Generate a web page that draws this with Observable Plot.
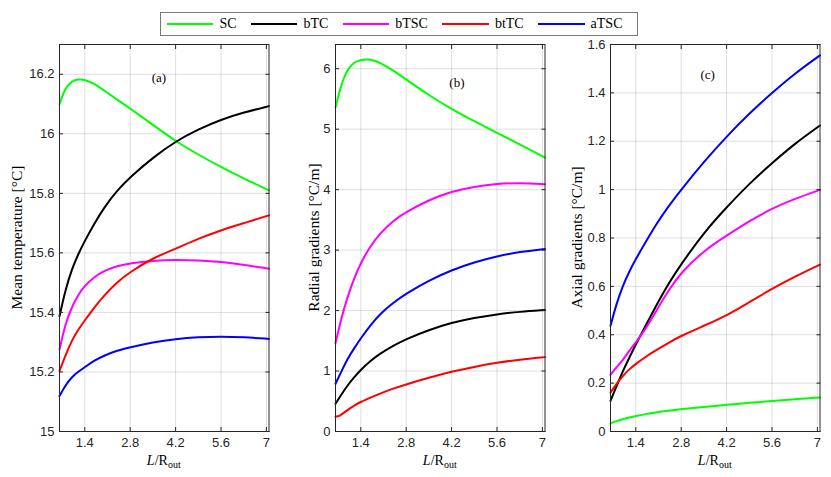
<!DOCTYPE html>
<html><head><meta charset="utf-8">
<script src="https://cdn.jsdelivr.net/npm/d3@7"></script>
<script src="https://cdn.jsdelivr.net/npm/@observablehq/plot@0.6"></script>
<style>
body{margin:0;background:#fff;}
#root{position:relative;width:831px;height:477px;overflow:hidden;}
.panel{position:absolute;top:40px;}
#legend{position:absolute;left:160px;top:12px;width:478px;height:24px;border:1px solid #777;background:#fff;box-sizing:border-box;display:flex;align-items:center;padding-left:6px;font-family:"Liberation Serif",serif;font-size:14px;color:#000;}
#legend .sw{width:49px;height:2px;margin-right:6px;}
#legend .lb{margin-right:14.5px;}
.serif{font-family:"Liberation Serif",serif !important;}
</style></head>
<body><div id="root"><div id="legend"></div></div>
<script>
// ---- data ----
const seriesNames = ["SC", "bTC", "bTSC", "btTC", "aTSC"];
const seriesColors = ["#00ff00", "#000000", "#ff00ff", "#ff0000", "#0000ff"];
const xs = [0.62, 0.8, 1.0, 1.2, 1.4, 1.7, 2.0, 2.4, 2.8, 3.5, 4.2, 4.9, 5.6, 6.3, 7.08];
const xsRedB = [0.62, 0.74, 1.0, 1.2, 1.4, 1.7, 2.0, 2.4, 2.8, 3.5, 4.2, 4.9, 5.6, 6.3, 7.08];
const xTicks = [1.4, 2.8, 4.2, 5.6, 7];

// (a) Mean temperature [°C]
const tempSC   = [16.10, 16.155, 16.177, 16.184, 16.182, 16.168, 16.145, 16.115, 16.085, 16.03, 15.975, 15.93, 15.888, 15.85, 15.81];
const tempBTC  = [15.387, 15.475, 15.545, 15.597, 15.64, 15.70, 15.753, 15.81, 15.855, 15.92, 15.975, 16.015, 16.048, 16.072, 16.093];
const tempBTSC = [15.275, 15.362, 15.418, 15.46, 15.49, 15.52, 15.54, 15.556, 15.565, 15.574, 15.577, 15.575, 15.57, 15.56, 15.547];
const tempBtTC = [15.203, 15.255, 15.306, 15.343, 15.373, 15.418, 15.457, 15.502, 15.536, 15.583, 15.614, 15.648, 15.676, 15.70, 15.726];
const tempATSC = [15.119, 15.155, 15.183, 15.201, 15.216, 15.239, 15.255, 15.272, 15.283, 15.30, 15.311, 15.317, 15.319, 15.317, 15.311];
const tempTicks = [15, 15.2, 15.4, 15.6, 15.8, 16, 16.2];

// (b) Radial gradients [°C/m]
const radSC   = [5.36, 5.75, 6.0, 6.11, 6.15, 6.16, 6.10, 5.97, 5.82, 5.56, 5.33, 5.13, 4.94, 4.75, 4.53];
const radBTC  = [0.46, 0.61, 0.77, 0.90, 1.02, 1.17, 1.29, 1.42, 1.53, 1.68, 1.80, 1.88, 1.94, 1.98, 2.01];
const radBTSC = [1.46, 1.88, 2.24, 2.54, 2.79, 3.07, 3.28, 3.49, 3.63, 3.83, 3.97, 4.05, 4.10, 4.11, 4.09];
const radBtTC = [0.25, 0.25, 0.36, 0.43, 0.49, 0.56, 0.63, 0.71, 0.78, 0.89, 0.99, 1.07, 1.14, 1.19, 1.23];
const radATSC = [0.79, 0.99, 1.21, 1.38, 1.54, 1.76, 1.95, 2.13, 2.28, 2.50, 2.67, 2.80, 2.90, 2.97, 3.02];
const radTicks = [0, 1, 2, 3, 4, 5, 6];

// (c) Axial gradients [°C/m]
const axSC   = [0.034, 0.043, 0.051, 0.058, 0.064, 0.072, 0.079, 0.086, 0.092, 0.102, 0.11, 0.119, 0.126, 0.133, 0.141];
const axBTC  = [0.127, 0.185, 0.25, 0.305, 0.36, 0.437, 0.513, 0.61, 0.692, 0.823, 0.927, 1.025, 1.11, 1.19, 1.265];
const axBTSC = [0.234, 0.265, 0.295, 0.334, 0.368, 0.423, 0.492, 0.582, 0.658, 0.748, 0.81, 0.87, 0.922, 0.962, 0.999];
const axBtTC = [0.161, 0.196, 0.23, 0.258, 0.279, 0.309, 0.334, 0.366, 0.396, 0.437, 0.479, 0.535, 0.59, 0.64, 0.69];
const axATSC = [0.437, 0.527, 0.603, 0.662, 0.713, 0.782, 0.851, 0.93, 1.0, 1.115, 1.22, 1.315, 1.40, 1.48, 1.555];
const axTicks = [0, 0.2, 0.4, 0.6, 0.8, 1, 1.2, 1.4, 1.6];

const panelTags = ["(a)", "(b)", "(c)"];
const yLabels = ["Mean temperature [°C]", "Radial gradients [°C/m]", "Axial gradients [°C/m]"];

// ---- layout ----
const xDomain = [0.62, 7.08];
const root = document.getElementById("root");
const legend = document.getElementById("legend");
seriesNames.forEach((n, i) => {
  const sw = document.createElement("div"); sw.className = "sw"; sw.style.background = seriesColors[i];
  const lb = document.createElement("span"); lb.className = "lb"; lb.textContent = n;
  legend.appendChild(sw); legend.appendChild(lb);
});

function rows(xArrs, yArrs) {
  return yArrs.flatMap((ys, i) => ys.map((y, j) => ({x: xArrs[i][j], y, s: seriesNames[i]})));
}

const panels = [
  {left: 0, yDomain: [15, 16.3], ticks: tempTicks, data: rows([xs,xs,xs,xs,xs],[tempSC,tempBTC,tempBTSC,tempBtTC,tempATSC]), tag: [3.7, 16.186], ylx: 17},
  {left: 275.7, yDomain: [0, 6.4], ticks: radTicks, data: rows([xs,xs,xs,xsRedB,xs],[radSC,radBTC,radBTSC,radBtTC,radATSC]), tag: [4.38, 5.77], ylx: 37.6},
  {left: 550.7, yDomain: [0, 1.6], ticks: axTicks, data: rows([xs,xs,xs,xs,xs],[axSC,axBTC,axBTSC,axBtTC,axATSC]), tag: [3.63, 1.473], ylx: 25.3}
];

const W = 271.5, H = 437, ML = 59, MR = 3, MT = 4, MB = 46;
const axisColor = "#262626";

panels.forEach((p, k) => {
  const svg = Plot.plot({
    width: W, height: H, marginLeft: ML, marginRight: MR, marginTop: MT, marginBottom: MB,
    x: {domain: xDomain},
    y: {domain: p.yDomain},
    color: {domain: seriesNames, range: seriesColors},
    style: {fontFamily: "'Liberation Sans', Arial, sans-serif", fontSize: "13px", background: "transparent", overflow: "visible"},
    marks: [
      Plot.gridX(xTicks, {stroke: "#000", strokeOpacity: 0.13}),
      Plot.gridY(p.ticks, {stroke: "#000", strokeOpacity: 0.13}),
      Plot.line(p.data, {x: "x", y: "y", z: "s", stroke: "s", strokeWidth: 2, curve: "basis"}),
      Plot.axisX(xTicks, {anchor: "bottom", tickSize: 0, tickPadding: 6, tickFormat: d => String(d), label: null, fill: axisColor}),
      Plot.axisX(xTicks, {anchor: "bottom", tickSize: 4, dy: -4, fill: "none", label: null, stroke: axisColor}),
      Plot.axisX(xTicks, {anchor: "top", tickSize: 4, dy: 4, fill: "none", label: null, stroke: axisColor}),
      Plot.axisY(p.ticks, {anchor: "left", tickSize: 0, tickPadding: 5, tickFormat: d => String(d), label: null, fill: axisColor}),
      Plot.axisY(p.ticks, {anchor: "left", tickSize: 4, dx: 4, fill: "none", label: null, stroke: axisColor}),
      Plot.axisY(p.ticks, {anchor: "right", tickSize: 4, dx: -4, fill: "none", label: null, stroke: axisColor}),
      Plot.frame({stroke: axisColor, strokeWidth: 1})
    ]
  });
  const sx = svg.scale("x"), sy = svg.scale("y");
  const s = d3.select(svg);
  s.append("text").attr("class", "serif")
    .attr("x", sx.apply(p.tag[0])).attr("y", sy.apply(p.tag[1]))
    .attr("text-anchor", "middle").attr("dy", "0.35em")
    .style("font-size", "13px").attr("fill", "#000")
    .text(panelTags[k]);
  s.append("text").attr("class", "serif")
    .attr("transform", `translate(${p.ylx},${MT + (H - MT - MB) / 2}) rotate(-90)`)
    .attr("text-anchor", "middle").attr("dy", "0.35em")
    .style("font-size", "15.5px").attr("fill", "#000")
    .text(yLabels[k]);
  const xl = s.append("text").attr("class", "serif")
    .attr("x", ML + (W - ML - MR) / 2).attr("y", 425)
    .attr("text-anchor", "middle")
    .style("font-size", "14px").attr("fill", "#000");
  xl.append("tspan").style("font-style", "italic").text("L");
  xl.append("tspan").text("/R");
  xl.append("tspan").style("font-size", "10px").attr("dy", 3).text("out");
  const wrap = document.createElement("div");
  wrap.className = "panel"; wrap.style.left = p.left + "px";
  wrap.appendChild(svg);
  root.appendChild(wrap);
});
</script>
</body></html>
